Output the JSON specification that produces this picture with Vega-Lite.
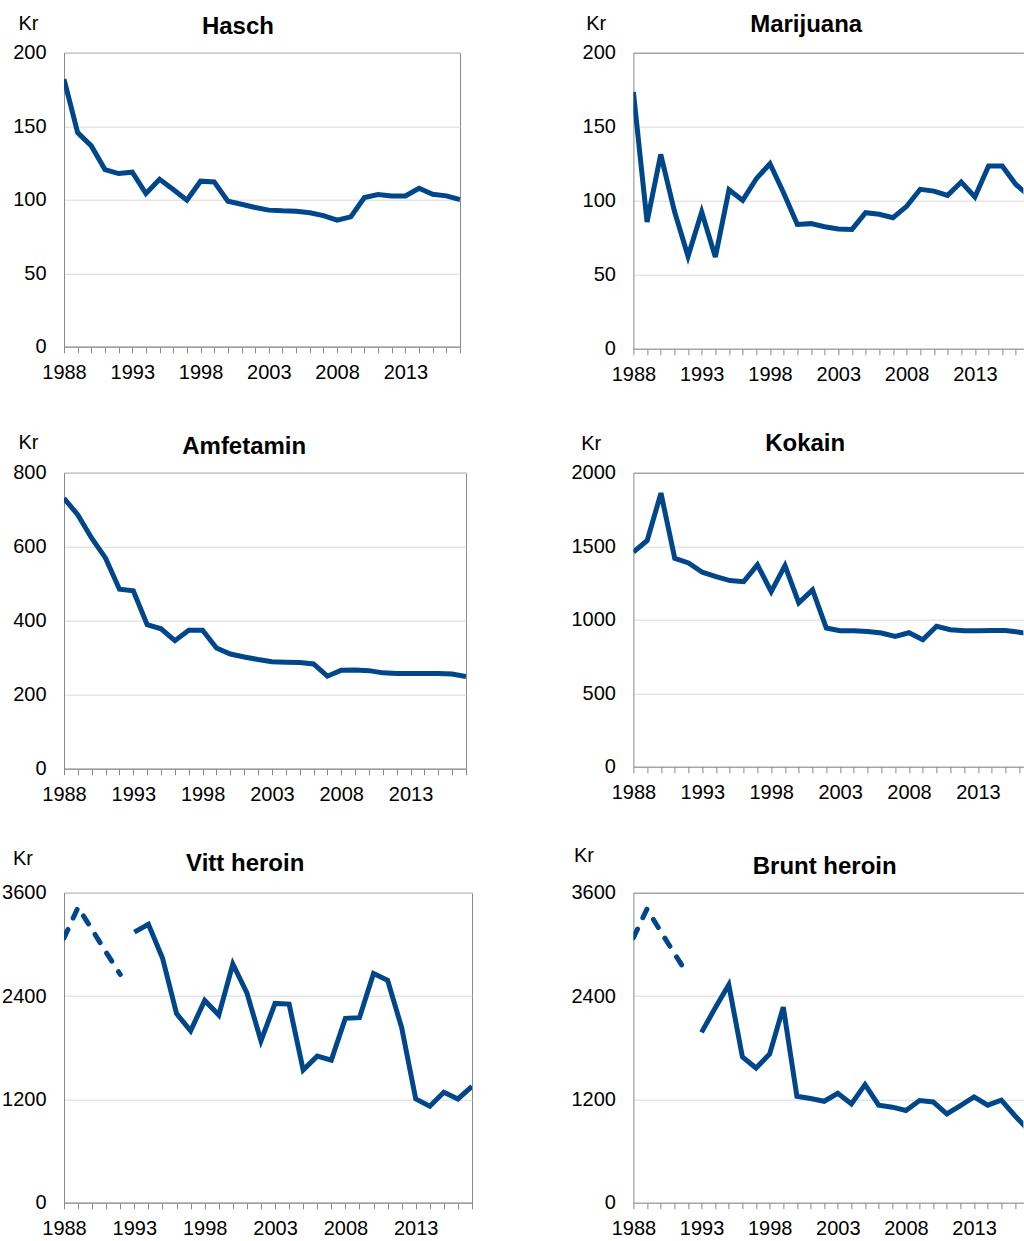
{
  "$schema": "https://vega.github.io/schema/vega-lite/v6.json",
  "padding": {"left": 1, "top": 11.7, "right": 0, "bottom": 0},
  "background": "white",
  "data": {"values": [
    {"drug":"Hasch","year":1988,"price":182},{"drug":"Hasch","year":1989,"price":145.6},{"drug":"Hasch","year":1990,"price":136.6},{"drug":"Hasch","year":1991,"price":120.5},{"drug":"Hasch","year":1992,"price":117.8},{"drug":"Hasch","year":1993,"price":118.7},{"drug":"Hasch","year":1994,"price":104.2},{"drug":"Hasch","year":1995,"price":113.9},{"drug":"Hasch","year":1996,"price":106.9},{"drug":"Hasch","year":1997,"price":99.7},{"drug":"Hasch","year":1998,"price":112.6},{"drug":"Hasch","year":1999,"price":112.1},{"drug":"Hasch","year":2000,"price":99},{"drug":"Hasch","year":2001,"price":96.9},{"drug":"Hasch","year":2002,"price":94.7},{"drug":"Hasch","year":2003,"price":92.9},{"drug":"Hasch","year":2004,"price":92.4},{"drug":"Hasch","year":2005,"price":92.2},{"drug":"Hasch","year":2006,"price":91.1},{"drug":"Hasch","year":2007,"price":89.2},{"drug":"Hasch","year":2008,"price":86.1},{"drug":"Hasch","year":2009,"price":88.3},{"drug":"Hasch","year":2010,"price":101.5},{"drug":"Hasch","year":2011,"price":103.5},{"drug":"Hasch","year":2012,"price":102.6},{"drug":"Hasch","year":2013,"price":102.6},{"drug":"Hasch","year":2014,"price":107.8},{"drug":"Hasch","year":2015,"price":103.7},{"drug":"Hasch","year":2016,"price":102.6},{"drug":"Hasch","year":2017,"price":100.1},
    {"drug":"Marijuana","year":1988,"price":173.4},{"drug":"Marijuana","year":1989,"price":85.6},{"drug":"Marijuana","year":1990,"price":131.3},{"drug":"Marijuana","year":1991,"price":93},{"drug":"Marijuana","year":1992,"price":62.4},{"drug":"Marijuana","year":1993,"price":92.3},{"drug":"Marijuana","year":1994,"price":61.9},{"drug":"Marijuana","year":1995,"price":107.4},{"drug":"Marijuana","year":1996,"price":100.2},{"drug":"Marijuana","year":1997,"price":114.9},{"drug":"Marijuana","year":1998,"price":125},{"drug":"Marijuana","year":1999,"price":105.2},{"drug":"Marijuana","year":2000,"price":84},{"drug":"Marijuana","year":2001,"price":84.5},{"drug":"Marijuana","year":2002,"price":82.4},{"drug":"Marijuana","year":2003,"price":80.9},{"drug":"Marijuana","year":2004,"price":80.6},{"drug":"Marijuana","year":2005,"price":91.9},{"drug":"Marijuana","year":2006,"price":90.8},{"drug":"Marijuana","year":2007,"price":88.5},{"drug":"Marijuana","year":2008,"price":96.2},{"drug":"Marijuana","year":2009,"price":107.7},{"drug":"Marijuana","year":2010,"price":106.5},{"drug":"Marijuana","year":2011,"price":103.6},{"drug":"Marijuana","year":2012,"price":112.6},{"drug":"Marijuana","year":2013,"price":102.5},{"drug":"Marijuana","year":2014,"price":123.4},{"drug":"Marijuana","year":2015,"price":123.4},{"drug":"Marijuana","year":2016,"price":111},{"drug":"Marijuana","year":2017,"price":103},
    {"drug":"Amfetamin","year":1988,"price":731},{"drug":"Amfetamin","year":1989,"price":686},{"drug":"Amfetamin","year":1990,"price":623},{"drug":"Amfetamin","year":1991,"price":569},{"drug":"Amfetamin","year":1992,"price":485},{"drug":"Amfetamin","year":1993,"price":481},{"drug":"Amfetamin","year":1994,"price":389},{"drug":"Amfetamin","year":1995,"price":378},{"drug":"Amfetamin","year":1996,"price":346},{"drug":"Amfetamin","year":1997,"price":374},{"drug":"Amfetamin","year":1998,"price":374},{"drug":"Amfetamin","year":1999,"price":326},{"drug":"Amfetamin","year":2000,"price":310},{"drug":"Amfetamin","year":2001,"price":302},{"drug":"Amfetamin","year":2002,"price":295},{"drug":"Amfetamin","year":2003,"price":289},{"drug":"Amfetamin","year":2004,"price":288},{"drug":"Amfetamin","year":2005,"price":287},{"drug":"Amfetamin","year":2006,"price":283},{"drug":"Amfetamin","year":2007,"price":250},{"drug":"Amfetamin","year":2008,"price":266},{"drug":"Amfetamin","year":2009,"price":267},{"drug":"Amfetamin","year":2010,"price":265},{"drug":"Amfetamin","year":2011,"price":259},{"drug":"Amfetamin","year":2012,"price":257},{"drug":"Amfetamin","year":2013,"price":257},{"drug":"Amfetamin","year":2014,"price":257},{"drug":"Amfetamin","year":2015,"price":257},{"drug":"Amfetamin","year":2016,"price":256},{"drug":"Amfetamin","year":2017,"price":249},
    {"drug":"Kokain","year":1988,"price":1459},{"drug":"Kokain","year":1989,"price":1539},{"drug":"Kokain","year":1990,"price":1861},{"drug":"Kokain","year":1991,"price":1418},{"drug":"Kokain","year":1992,"price":1386},{"drug":"Kokain","year":1993,"price":1323},{"drug":"Kokain","year":1994,"price":1293},{"drug":"Kokain","year":1995,"price":1266},{"drug":"Kokain","year":1996,"price":1259},{"drug":"Kokain","year":1997,"price":1373},{"drug":"Kokain","year":1998,"price":1191},{"drug":"Kokain","year":1999,"price":1368},{"drug":"Kokain","year":2000,"price":1114},{"drug":"Kokain","year":2001,"price":1202},{"drug":"Kokain","year":2002,"price":943},{"drug":"Kokain","year":2003,"price":925},{"drug":"Kokain","year":2004,"price":925},{"drug":"Kokain","year":2005,"price":920},{"drug":"Kokain","year":2006,"price":909},{"drug":"Kokain","year":2007,"price":886},{"drug":"Kokain","year":2008,"price":911},{"drug":"Kokain","year":2009,"price":864},{"drug":"Kokain","year":2010,"price":955},{"drug":"Kokain","year":2011,"price":932},{"drug":"Kokain","year":2012,"price":925},{"drug":"Kokain","year":2013,"price":925},{"drug":"Kokain","year":2014,"price":927},{"drug":"Kokain","year":2015,"price":927},{"drug":"Kokain","year":2016,"price":915},{"drug":"Kokain","year":2017,"price":900},
    {"drug":"Vitt heroin","seg":"d","year":1988,"price":3073},{"drug":"Vitt heroin","seg":"d","year":1989,"price":3431},{"drug":"Vitt heroin","seg":"d","year":1990,"price":3170},{"drug":"Vitt heroin","seg":"d","year":1991,"price":2905},{"drug":"Vitt heroin","seg":"d","year":1992,"price":2650},
    {"drug":"Vitt heroin","seg":"s","year":1993,"price":3142},{"drug":"Vitt heroin","seg":"s","year":1994,"price":3234},{"drug":"Vitt heroin","seg":"s","year":1995,"price":2842},{"drug":"Vitt heroin","seg":"s","year":1996,"price":2195},{"drug":"Vitt heroin","seg":"s","year":1997,"price":1995},{"drug":"Vitt heroin","seg":"s","year":1998,"price":2349},{"drug":"Vitt heroin","seg":"s","year":1999,"price":2179},{"drug":"Vitt heroin","seg":"s","year":2000,"price":2772},{"drug":"Vitt heroin","seg":"s","year":2001,"price":2437},{"drug":"Vitt heroin","seg":"s","year":2002,"price":1879},{"drug":"Vitt heroin","seg":"s","year":2003,"price":2314},{"drug":"Vitt heroin","seg":"s","year":2004,"price":2306},{"drug":"Vitt heroin","seg":"s","year":2005,"price":1540},{"drug":"Vitt heroin","seg":"s","year":2006,"price":1702},{"drug":"Vitt heroin","seg":"s","year":2007,"price":1656},{"drug":"Vitt heroin","seg":"s","year":2008,"price":2141},{"drug":"Vitt heroin","seg":"s","year":2009,"price":2149},{"drug":"Vitt heroin","seg":"s","year":2010,"price":2661},{"drug":"Vitt heroin","seg":"s","year":2011,"price":2584},{"drug":"Vitt heroin","seg":"s","year":2012,"price":2033},{"drug":"Vitt heroin","seg":"s","year":2013,"price":1205},{"drug":"Vitt heroin","seg":"s","year":2014,"price":1121},{"drug":"Vitt heroin","seg":"s","year":2015,"price":1282},{"drug":"Vitt heroin","seg":"s","year":2016,"price":1205},{"drug":"Vitt heroin","seg":"s","year":2017,"price":1352},
    {"drug":"Brunt heroin","seg":"d","year":1988,"price":3078},{"drug":"Brunt heroin","seg":"d","year":1989,"price":3411},{"drug":"Brunt heroin","seg":"d","year":1990,"price":3150},{"drug":"Brunt heroin","seg":"d","year":1991,"price":2897},{"drug":"Brunt heroin","seg":"d","year":1992,"price":2646},
    {"drug":"Brunt heroin","seg":"s","year":1993,"price":1978},{"drug":"Brunt heroin","seg":"s","year":1994,"price":2260},{"drug":"Brunt heroin","seg":"s","year":1995,"price":2530},{"drug":"Brunt heroin","seg":"s","year":1996,"price":1692},{"drug":"Brunt heroin","seg":"s","year":1997,"price":1564},{"drug":"Brunt heroin","seg":"s","year":1998,"price":1727},{"drug":"Brunt heroin","seg":"s","year":1999,"price":2271},{"drug":"Brunt heroin","seg":"s","year":2000,"price":1236},{"drug":"Brunt heroin","seg":"s","year":2001,"price":1209},{"drug":"Brunt heroin","seg":"s","year":2002,"price":1178},{"drug":"Brunt heroin","seg":"s","year":2003,"price":1271},{"drug":"Brunt heroin","seg":"s","year":2004,"price":1147},{"drug":"Brunt heroin","seg":"s","year":2005,"price":1371},{"drug":"Brunt heroin","seg":"s","year":2006,"price":1132},{"drug":"Brunt heroin","seg":"s","year":2007,"price":1109},{"drug":"Brunt heroin","seg":"s","year":2008,"price":1070},{"drug":"Brunt heroin","seg":"s","year":2009,"price":1186},{"drug":"Brunt heroin","seg":"s","year":2010,"price":1170},{"drug":"Brunt heroin","seg":"s","year":2011,"price":1031},{"drug":"Brunt heroin","seg":"s","year":2012,"price":1128},{"drug":"Brunt heroin","seg":"s","year":2013,"price":1228},{"drug":"Brunt heroin","seg":"s","year":2014,"price":1132},{"drug":"Brunt heroin","seg":"s","year":2015,"price":1190},{"drug":"Brunt heroin","seg":"s","year":2016,"price":1010},{"drug":"Brunt heroin","seg":"s","year":2017,"price":840}
  ]},
  "columns": 2,
  "bounds": "flush",
  "align": "each",
  "spacing": {"row": 124, "column": 161.4},
  "concat": [
    {
      "width": 396, "height": 294,
      "transform": [{"filter": "datum.drug === 'Hasch'"}],
      "layer": [
        {"mark": {"type": "line", "color": "#00468b", "strokeWidth": 5, "clip": true},
         "encoding": {
           "x": {"field": "year", "type": "quantitative", "scale": {"domain": [1988, 2017], "nice": false, "zero": false},
                 "axis": {"orient": "bottom", "values": [1988,1989,1990,1991,1992,1993,1994,1995,1996,1997,1998,1999,2000,2001,2002,2003,2004,2005,2006,2007,2008,2009,2010,2011,2012,2013,2014,2015,2016,2017], "format": "d", "labelExpr": "(datum.value - 1988) % 5 === 0 ? datum.label : ''", "title": null, "grid": false, "domain": true, "ticks": true, "tickSize": 6, "labelPadding": 10, "labelFlush": false, "labelOverlap": false}},
           "y": {"field": "price", "type": "quantitative", "scale": {"domain": [0, 200], "nice": false},
                 "axis": {"orient": "left", "values": [0, 50, 100, 150, 200], "format": "d", "grid": true, "ticks": false, "domain": true, "labelPadding": 18, "title": "Kr", "titleAngle": 0, "titleAlign": "left", "titleBaseline": "alphabetic", "titleX": -46, "titleY": -22.8, "titleFontSize": 20, "titleFontWeight": "normal"}}
         }},
        {"mark": {"type": "line", "opacity": 0, "clip": true},
         "encoding": {
           "x": {"field": "year", "type": "quantitative", "axis": {"orient": "top", "title": "Hasch", "labels": false, "ticks": false, "domain": false, "grid": false, "titleX": 173.4, "titleY": -19, "titleAlign": "center", "titleBaseline": "alphabetic", "titleFontSize": 24, "titleFontWeight": "bold"}},
           "y": {"field": "price", "type": "quantitative", "axis": {"orient": "right", "title": null, "labels": false, "ticks": false, "domain": false, "grid": false}}
         }}
      ]
    },
    {
      "width": 390, "height": 296,
      "view": {"stroke": null},
      "transform": [{"filter": "datum.drug === 'Marijuana'"}],
      "layer": [
        {"mark": {"type": "line", "color": "#00468b", "strokeWidth": 5, "clip": true},
         "encoding": {
           "x": {"field": "year", "type": "quantitative", "scale": {"domain": [1988, 2016.55], "nice": false, "zero": false},
                 "axis": {"orient": "bottom", "values": [1988,1989,1990,1991,1992,1993,1994,1995,1996,1997,1998,1999,2000,2001,2002,2003,2004,2005,2006,2007,2008,2009,2010,2011,2012,2013,2014,2015,2016], "format": "d", "labelExpr": "(datum.value - 1988) % 5 === 0 ? datum.label : ''", "title": null, "grid": false, "domain": true, "ticks": true, "tickSize": 6, "labelPadding": 10, "labelFlush": false, "labelOverlap": false}},
           "y": {"field": "price", "type": "quantitative", "scale": {"domain": [0, 200], "nice": false},
                 "axis": {"orient": "left", "values": [0, 50, 100, 150, 200], "format": "d", "grid": true, "ticks": false, "domain": true, "labelPadding": 18, "title": "Kr", "titleAngle": 0, "titleAlign": "left", "titleBaseline": "alphabetic", "titleX": -47.7, "titleY": -23, "titleFontSize": 20, "titleFontWeight": "normal"}}
         }},
        {"mark": {"type": "line", "opacity": 0, "clip": true},
         "encoding": {
           "x": {"field": "year", "type": "quantitative", "axis": {"orient": "top", "title": "Marijuana", "labels": false, "ticks": false, "domain": true, "grid": false, "titleX": 172.3, "titleY": -21.6, "titleAlign": "center", "titleBaseline": "alphabetic", "titleFontSize": 24, "titleFontWeight": "bold"}},
           "y": {"field": "price", "type": "quantitative", "axis": {"orient": "right", "title": null, "labels": false, "ticks": false, "domain": false, "grid": false}}
         }}
      ]
    },
    {
      "width": 402, "height": 296,
      "transform": [{"filter": "datum.drug === 'Amfetamin'"}],
      "layer": [
        {"mark": {"type": "line", "color": "#00468b", "strokeWidth": 5, "clip": true},
         "encoding": {
           "x": {"field": "year", "type": "quantitative", "scale": {"domain": [1988, 2017], "nice": false, "zero": false},
                 "axis": {"orient": "bottom", "values": [1988,1989,1990,1991,1992,1993,1994,1995,1996,1997,1998,1999,2000,2001,2002,2003,2004,2005,2006,2007,2008,2009,2010,2011,2012,2013,2014,2015,2016,2017], "format": "d", "labelExpr": "(datum.value - 1988) % 5 === 0 ? datum.label : ''", "title": null, "grid": false, "domain": true, "ticks": true, "tickSize": 6, "labelPadding": 10, "labelFlush": false, "labelOverlap": false}},
           "y": {"field": "price", "type": "quantitative", "scale": {"domain": [0, 800], "nice": false},
                 "axis": {"orient": "left", "values": [0, 200, 400, 600, 800], "format": "d", "grid": true, "ticks": false, "domain": true, "labelPadding": 18, "title": "Kr", "titleAngle": 0, "titleAlign": "left", "titleBaseline": "alphabetic", "titleX": -46, "titleY": -24, "titleFontSize": 20, "titleFontWeight": "normal"}}
         }},
        {"mark": {"type": "line", "opacity": 0, "clip": true},
         "encoding": {
           "x": {"field": "year", "type": "quantitative", "axis": {"orient": "top", "title": "Amfetamin", "labels": false, "ticks": false, "domain": false, "grid": false, "titleX": 179.7, "titleY": -19.5, "titleAlign": "center", "titleBaseline": "alphabetic", "titleFontSize": 24, "titleFontWeight": "bold"}},
           "y": {"field": "price", "type": "quantitative", "axis": {"orient": "right", "title": null, "labels": false, "ticks": false, "domain": false, "grid": false}}
         }}
      ]
    },
    {
      "width": 390, "height": 294,
      "view": {"stroke": null},
      "transform": [{"filter": "datum.drug === 'Kokain'"}],
      "layer": [
        {"mark": {"type": "line", "color": "#00468b", "strokeWidth": 5, "clip": true},
         "encoding": {
           "x": {"field": "year", "type": "quantitative", "scale": {"domain": [1988, 2016.3], "nice": false, "zero": false},
                 "axis": {"orient": "bottom", "values": [1988,1989,1990,1991,1992,1993,1994,1995,1996,1997,1998,1999,2000,2001,2002,2003,2004,2005,2006,2007,2008,2009,2010,2011,2012,2013,2014,2015,2016], "format": "d", "labelExpr": "(datum.value - 1988) % 5 === 0 ? datum.label : ''", "title": null, "grid": false, "domain": true, "ticks": true, "tickSize": 6, "labelPadding": 10, "labelFlush": false, "labelOverlap": false}},
           "y": {"field": "price", "type": "quantitative", "scale": {"domain": [0, 2000], "nice": false},
                 "axis": {"orient": "left", "values": [0, 500, 1000, 1500, 2000], "format": "d", "grid": true, "ticks": false, "domain": true, "labelPadding": 18, "title": "Kr", "titleAngle": 0, "titleAlign": "left", "titleBaseline": "alphabetic", "titleX": -52.7, "titleY": -23.5, "titleFontSize": 20, "titleFontWeight": "normal"}}
         }},
        {"mark": {"type": "line", "opacity": 0, "clip": true},
         "encoding": {
           "x": {"field": "year", "type": "quantitative", "axis": {"orient": "top", "title": "Kokain", "labels": false, "ticks": false, "domain": true, "grid": false, "titleX": 171.3, "titleY": -22.5, "titleAlign": "center", "titleBaseline": "alphabetic", "titleFontSize": 24, "titleFontWeight": "bold"}},
           "y": {"field": "price", "type": "quantitative", "axis": {"orient": "right", "title": null, "labels": false, "ticks": false, "domain": false, "grid": false}}
         }}
      ]
    },
    {
      "width": 408, "height": 310,
      "transform": [{"filter": "datum.drug === 'Vitt heroin'"}],
      "layer": [
        {"transform": [{"filter": "datum.seg === 's'"}],
         "mark": {"type": "line", "color": "#00468b", "strokeWidth": 5, "clip": true},
         "encoding": {
           "x": {"field": "year", "type": "quantitative", "scale": {"domain": [1988, 2017], "nice": false, "zero": false},
                 "axis": {"orient": "bottom", "values": [1988,1989,1990,1991,1992,1993,1994,1995,1996,1997,1998,1999,2000,2001,2002,2003,2004,2005,2006,2007,2008,2009,2010,2011,2012,2013,2014,2015,2016,2017], "format": "d", "labelExpr": "(datum.value - 1988) % 5 === 0 ? datum.label : ''", "title": null, "grid": false, "domain": true, "ticks": true, "tickSize": 6, "labelPadding": 10, "labelFlush": false, "labelOverlap": false}},
           "y": {"field": "price", "type": "quantitative", "scale": {"domain": [0, 3600], "nice": false},
                 "axis": {"orient": "left", "values": [0, 1200, 2400, 3600], "format": "d", "grid": true, "ticks": false, "domain": true, "labelPadding": 18, "title": "Kr", "titleAngle": 0, "titleAlign": "left", "titleBaseline": "alphabetic", "titleX": -51.6, "titleY": -28.5, "titleFontSize": 20, "titleFontWeight": "normal"}}
         }},
        {"transform": [{"filter": "datum.seg === 'd'"}],
         "mark": {"type": "line", "color": "#00468b", "strokeWidth": 5, "strokeDash": [9.5, 12.5], "strokeCap": "round", "clip": true},
         "encoding": {
           "x": {"field": "year", "type": "quantitative", "axis": null},
           "y": {"field": "price", "type": "quantitative", "axis": {"orient": "right", "title": null, "labels": false, "ticks": false, "domain": false, "grid": false}}
         }},
        {"mark": {"type": "line", "opacity": 0, "clip": true},
         "encoding": {
           "x": {"field": "year", "type": "quantitative", "axis": {"orient": "top", "title": "Vitt heroin", "labels": false, "ticks": false, "domain": false, "grid": false, "titleX": 180.7, "titleY": -21.7, "titleAlign": "center", "titleBaseline": "alphabetic", "titleFontSize": 24, "titleFontWeight": "bold"}},
           "y": {"field": "price", "type": "quantitative", "axis": {"orient": "right", "title": null, "labels": false, "ticks": false, "domain": false, "grid": false}},
           "detail": {"field": "seg"}
         }}
      ]
    },
    {
      "width": 390, "height": 310,
      "view": {"stroke": null},
      "transform": [{"filter": "datum.drug === 'Brunt heroin'"}],
      "layer": [
        {"transform": [{"filter": "datum.seg === 's'"}],
         "mark": {"type": "line", "color": "#00468b", "strokeWidth": 5, "clip": true},
         "encoding": {
           "x": {"field": "year", "type": "quantitative", "scale": {"domain": [1988, 2016.62], "nice": false, "zero": false},
                 "axis": {"orient": "bottom", "values": [1988,1989,1990,1991,1992,1993,1994,1995,1996,1997,1998,1999,2000,2001,2002,2003,2004,2005,2006,2007,2008,2009,2010,2011,2012,2013,2014,2015,2016], "format": "d", "labelExpr": "(datum.value - 1988) % 5 === 0 ? datum.label : ''", "title": null, "grid": false, "domain": true, "ticks": true, "tickSize": 6, "labelPadding": 10, "labelFlush": false, "labelOverlap": false}},
           "y": {"field": "price", "type": "quantitative", "scale": {"domain": [0, 3600], "nice": false},
                 "axis": {"orient": "left", "values": [0, 1200, 2400, 3600], "format": "d", "grid": true, "ticks": false, "domain": true, "labelPadding": 18, "title": "Kr", "titleAngle": 0, "titleAlign": "left", "titleBaseline": "alphabetic", "titleX": -60, "titleY": -31.5, "titleFontSize": 20, "titleFontWeight": "normal"}}
         }},
        {"transform": [{"filter": "datum.seg === 'd'"}],
         "mark": {"type": "line", "color": "#00468b", "strokeWidth": 5, "strokeDash": [9.5, 12.5], "strokeCap": "round", "clip": true},
         "encoding": {
           "x": {"field": "year", "type": "quantitative", "axis": null},
           "y": {"field": "price", "type": "quantitative", "axis": {"orient": "right", "title": null, "labels": false, "ticks": false, "domain": false, "grid": false}}
         }},
        {"mark": {"type": "line", "opacity": 0, "clip": true},
         "encoding": {
           "x": {"field": "year", "type": "quantitative", "axis": {"orient": "top", "title": "Brunt heroin", "labels": false, "ticks": false, "domain": true, "grid": false, "titleX": 190.8, "titleY": -19, "titleAlign": "center", "titleBaseline": "alphabetic", "titleFontSize": 24, "titleFontWeight": "bold"}},
           "y": {"field": "price", "type": "quantitative", "axis": {"orient": "right", "title": null, "labels": false, "ticks": false, "domain": false, "grid": false}},
           "detail": {"field": "seg"}
         }}
      ]
    }
  ],
  "config": {
    "font": "Liberation Sans",
    "view": {"stroke": "#898989", "strokeWidth": 1},
    "axis": {"labelFont": "Liberation Sans", "labelFontSize": 20, "labelColor": "#000000", "titleFont": "Liberation Sans", "titleColor": "#000000", "domainColor": "#898989", "tickColor": "#898989", "gridColor": "#d9d9d9", "domainWidth": 1, "gridWidth": 1, "tickWidth": 1}
  }
}
